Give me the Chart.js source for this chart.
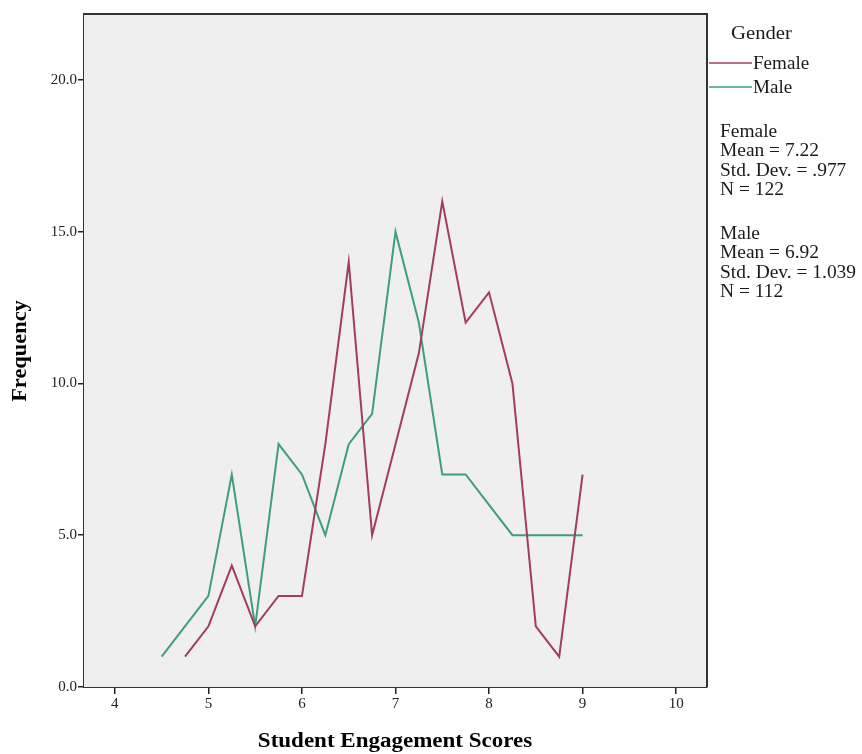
<!DOCTYPE html>
<html>
<head>
<meta charset="utf-8">
<script src="https://cdn.jsdelivr.net/npm/chart.js@4"></script>
<style>
  body { margin: 0; background: #ffffff; }
  #wrap { width: 862px; height: 754px; }
</style>
</head>
<body>
<div id="wrap"><canvas id="freq-chart" width="862" height="754"></canvas></div>
<script>
// Frequency polygon of engagement scores, split by gender
const femaleScores = [4.75, 5, 5.25, 5.5, 5.75, 6, 6.25, 6.5, 6.75, 7, 7.25, 7.5, 7.75, 8, 8.25, 8.5, 8.75, 9];
const femaleCounts = [1, 2, 4, 2, 3, 3, 8, 14, 5, 8, 11, 16, 12, 13, 10, 2, 1, 7];
const maleScores = [4.5, 5, 5.25, 5.5, 5.75, 6, 6.25, 6.5, 6.75, 7, 7.25, 7.5, 7.75, 8, 8.25, 8.75, 9];
const maleCounts = [1, 3, 7, 2, 8, 7, 5, 8, 9, 15, 12, 7, 7, 6, 5, 5, 5];
const xTicks = [4, 5, 6, 7, 8, 9, 10];
const yTicks = [0, 5, 10, 15, 20];
const legendLabels = ['Female', 'Male'];
const statsLines = [
    ['Female', 'Mean = 7.22', 'Std. Dev. = .977', 'N = 122'],
    ['Male', 'Mean = 6.92', 'Std. Dev. = 1.039', 'N = 112']
];

const FEMALE_COLOR = '#a23c62';
const MALE_COLOR = '#3f9e7b';
const SERIF = '"Liberation Serif", "DejaVu Serif", serif';

function toPoints(xs, ys) {
    return xs.map((x, i) => ({ x: x, y: ys[i] }));
}

// the original text is a bit wider than Liberation Serif, so stretch it horizontally
function stretchedText(ctx, text, x, y, sx) {
    ctx.save();
    ctx.translate(x, y);
    ctx.scale(sx, 1);
    ctx.fillText(text, 0, 0);
    ctx.restore();
}

// grey plot background + frame on top/right
const plotFrame = {
    id: 'plotFrame',
    beforeDatasetsDraw(chart) {
        const { ctx, chartArea: a } = chart;
        ctx.save();
        ctx.fillStyle = '#efefef';
        ctx.fillRect(a.left, a.top, a.right - a.left, a.bottom - a.top);
        ctx.restore();
    },
    afterDraw(chart) {
        const { ctx, chartArea: a } = chart;
        ctx.save();
        ctx.strokeStyle = '#333333';
        ctx.lineWidth = 2;
        ctx.beginPath();
        ctx.moveTo(a.left, a.top);
        ctx.lineTo(a.right, a.top);
        ctx.lineTo(a.right, a.bottom);
        ctx.stroke();

        // axis titles
        ctx.fillStyle = '#000000';
        ctx.font = 'bold 20px ' + SERIF;
        ctx.textAlign = 'center';
        ctx.textBaseline = 'middle';
        stretchedText(ctx, 'Student Engagement Scores', 395, 742, 1.15);
        ctx.save();
        ctx.translate(21, 351);
        ctx.rotate(-Math.PI / 2);
        stretchedText(ctx, 'Frequency', 0, 0, 1.12);
        ctx.restore();

        // legend block on the right
        ctx.font = '18px ' + SERIF;
        ctx.textAlign = 'left';
        ctx.fillStyle = '#1a1a1a';
        stretchedText(ctx, 'Gender', 731, 34, 1.15);
        const colors = [FEMALE_COLOR, MALE_COLOR];
        const rows = [64, 88];
        legendLabels.forEach((lbl, i) => {
            ctx.strokeStyle = colors[i];
            ctx.lineWidth = 1.5;
            ctx.beginPath();
            ctx.moveTo(709, rows[i] - 1);
            ctx.lineTo(752, rows[i] - 1);
            ctx.stroke();
            stretchedText(ctx, lbl, 753, rows[i], 1.06);
        });
        const blockTops = [132, 234];
        statsLines.forEach((block, b) => {
            block.forEach((line, j) => {
                stretchedText(ctx, line, 720, blockTops[b] + j * 19.5, 1.08);
            });
        });
        ctx.restore();
    }
};

const ctxFreq = document.getElementById('freq-chart').getContext('2d');
const freqChart = new Chart(ctxFreq, {
    type: 'line',
    data: {
        datasets: [{
            label: 'Female',
            data: toPoints(femaleScores, femaleCounts),
            borderColor: FEMALE_COLOR,
            borderWidth: 2,
            pointRadius: 0,
            tension: 0,
            fill: false
        }, {
            label: 'Male',
            data: toPoints(maleScores, maleCounts),
            borderColor: MALE_COLOR,
            borderWidth: 2,
            pointRadius: 0,
            tension: 0,
            fill: false
        }]
    },
    options: {
        responsive: false,
        animation: false,
        layout: { padding: { top: 14, right: 155, left: 0, bottom: 0 } },
        plugins: {
            legend: { display: false },
            tooltip: { enabled: false }
        },
        scales: {
            x: {
                type: 'linear',
                min: 3.67,
                max: 10.33,
                afterBuildTicks: (scale) => { scale.ticks = xTicks.map(v => ({ value: v })); },
                afterFit: (scale) => { scale.height = 67; },
                grid: { drawOnChartArea: false, drawTicks: true, tickLength: 7, color: '#222222', lineWidth: 1.5 },
                border: { display: true, color: '#333333', width: 2 },
                ticks: {
                    padding: 1,
                    color: '#222222',
                    font: { family: SERIF, size: 15 },
                    maxRotation: 0,
                    callback: (v) => String(v)
                }
            },
            y: {
                min: 0,
                max: 22.17,
                afterBuildTicks: (scale) => { scale.ticks = yTicks.map(v => ({ value: v })); },
                afterFit: (scale) => { scale.width = 84; },
                grid: { drawOnChartArea: false, drawTicks: true, tickLength: 6, color: '#222222', lineWidth: 1.5 },
                border: { display: true, color: '#333333', width: 2 },
                ticks: {
                    padding: 1,
                    color: '#222222',
                    font: { family: SERIF, size: 15 },
                    callback: (v) => v.toFixed(1)
                }
            }
        }
    },
    plugins: [plotFrame]
});
</script>
</body>
</html>
